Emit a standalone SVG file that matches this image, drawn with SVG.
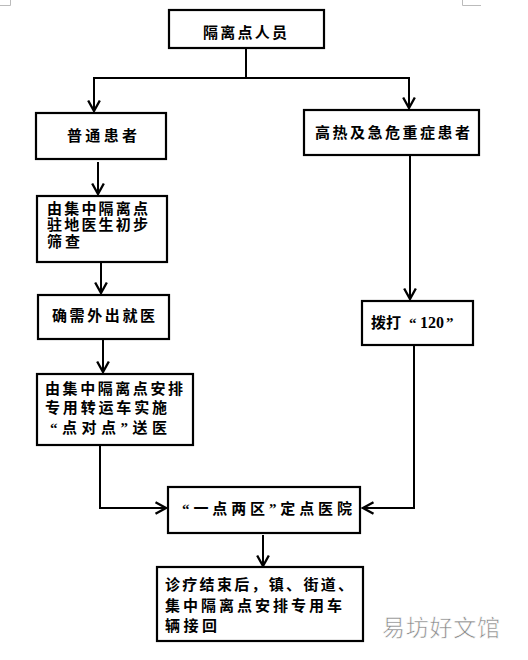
<svg xmlns="http://www.w3.org/2000/svg" width="528" height="660" viewBox="0 0 528 660">
<style>
.box{fill:#fff;stroke:#000;stroke-width:2.2}
.t{font-family:"Liberation Serif","Noto Sans CJK SC",serif;font-size:15px;font-weight:bold;fill:#000}
.c{fill:none;stroke:#000;stroke-width:2}
.mk{fill:none;stroke:#bbb;stroke-width:1}
</style>
<defs>
<marker id="ar" markerUnits="userSpaceOnUse" markerWidth="14" markerHeight="14" refX="10" refY="6" orient="auto" viewBox="0 0 12 12">
<path d="M1,1 L10,6 L1,11" fill="none" stroke="#000" stroke-width="2"/>
</marker>
</defs>
<path class="mk" d="M0,5.5 H10.5 V0 M462.5,0 V5.5 H481"/>
<g id="connectors">
<path class="c" d="M246,48 V78 H94 V111" marker-end="url(#ar)"/>
<path class="c" d="M246,78 H409 V108" marker-end="url(#ar)"/>
<path class="c" d="M98,162 V194" marker-end="url(#ar)"/>
<path class="c" d="M101,262 V293" marker-end="url(#ar)"/>
<path class="c" d="M103,339 V372" marker-end="url(#ar)"/>
<path class="c" d="M100,445 V508 H166" marker-end="url(#ar)"/>
<path class="c" d="M410,155 V299" marker-end="url(#ar)"/>
<path class="c" d="M414,345 V508 H363" marker-end="url(#ar)"/>
<path class="c" d="M263,535 V566" marker-end="url(#ar)"/>
</g>
<g id="n1"><rect class="box" x="169" y="10" width="155" height="38"/><text class="t" x="203" y="38" textLength="84" lengthAdjust="spacing">隔离点人员</text></g>
<g id="n2"><rect class="box" x="36" y="113" width="130" height="46"/><text class="t" x="67" y="141" textLength="70" lengthAdjust="spacing">普通患者</text></g>
<g id="n3"><rect class="box" x="304" y="110" width="175" height="45"/><text class="t" x="315" y="138" textLength="155" lengthAdjust="spacing">高热及急危重症患者</text></g>
<g id="n4"><rect class="box" x="37" y="196" width="130" height="66"/>
<text class="t" x="47" y="213.5" textLength="101" lengthAdjust="spacing">由集中隔离点</text>
<text class="t" x="47" y="230.2" textLength="101" lengthAdjust="spacing">驻地医生初步</text>
<text class="t" x="47" y="247" textLength="33" lengthAdjust="spacing">筛查</text></g>
<g id="n5"><rect class="box" x="38" y="295" width="131" height="44"/><text class="t" x="52" y="321" textLength="103" lengthAdjust="spacing">确需外出就医</text></g>
<g id="n6"><rect class="box" x="37" y="374" width="156" height="71"/>
<text class="t" x="45" y="394" textLength="138" lengthAdjust="spacing">由集中隔离点安排</text>
<text class="t" x="45" y="413" textLength="122" lengthAdjust="spacing">专用转运车实施</text>
<text class="t" x="50" y="433" textLength="117" lengthAdjust="spacing">“点对点”送医</text></g>
<g id="n7"><rect class="box" x="362" y="301" width="111" height="44"/><text class="t" y="328"><tspan x="371">拨打</tspan><tspan x="409">“</tspan><tspan x="420" font-size="16">120</tspan><tspan x="446">”</tspan></text></g>
<g id="n8"><rect class="box" x="168" y="487" width="192" height="46"/><text class="t" x="182" y="514" textLength="170" lengthAdjust="spacing">“一点两区”定点医院</text></g>
<g id="n9"><rect class="box" x="157" y="567" width="206" height="74"/>
<text class="t" x="165" y="590" textLength="188" lengthAdjust="spacing">诊疗结束后，镇、街道、</text>
<text class="t" x="165" y="611" textLength="177" lengthAdjust="spacing">集中隔离点安排专用车</text>
<text class="t" x="165" y="631" textLength="52" lengthAdjust="spacing">辆接回</text></g>
<text x="382" y="636" font-family="Noto Sans CJK SC, sans-serif" font-size="23" fill="#888" stroke="#fff" stroke-width="0.6" textLength="118" lengthAdjust="spacing">易坊好文馆</text>
</svg>
